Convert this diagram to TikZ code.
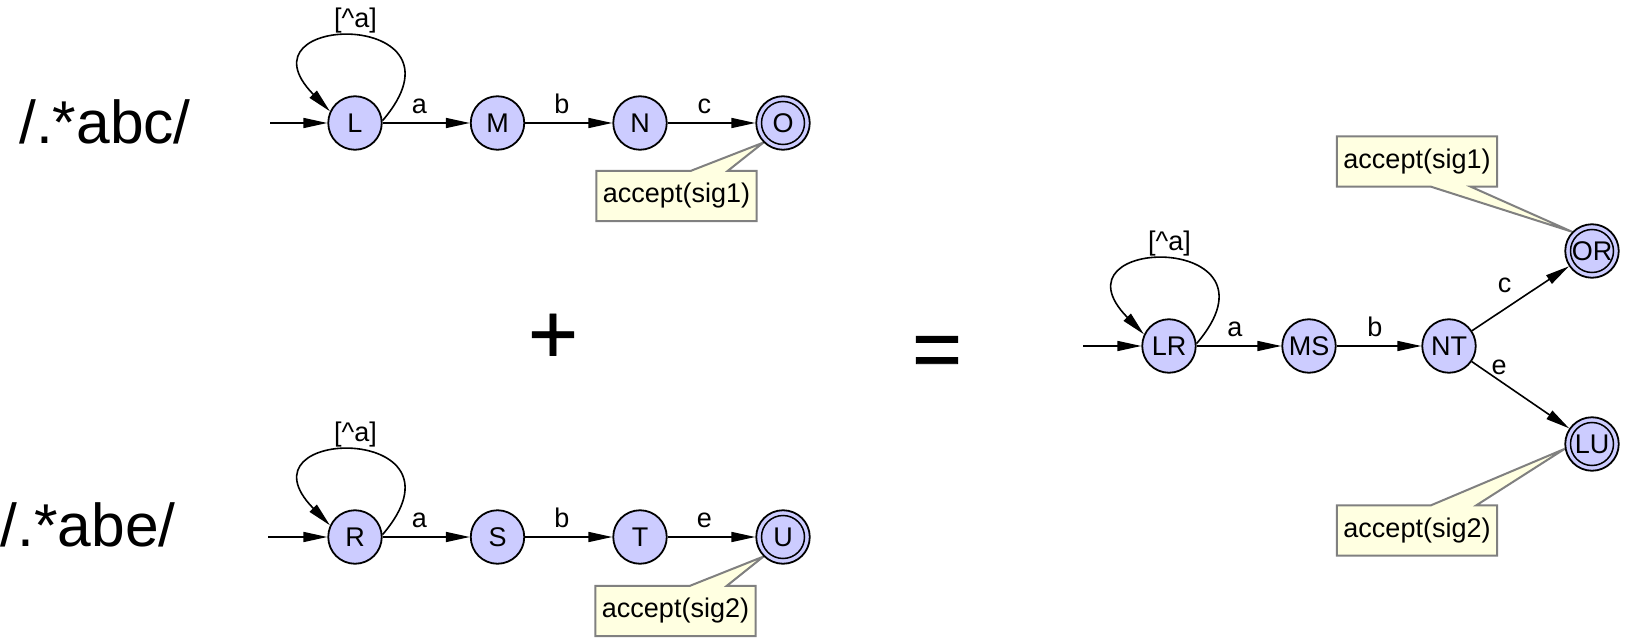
\documentclass[tikz,border=0pt]{standalone}
\usepackage{fontspec}
\setmainfont{Liberation Sans}
\newfontfamily\opfont[UprightFeatures={FakeBold=1}]{Liberation Sans}
\usetikzlibrary{arrows.meta,calc}
\pgfdeclarelayer{background}
\pgfsetlayers{background,main}
\definecolor{statefill}{RGB}{204,204,255}
\definecolor{notefill}{RGB}{255,255,225}
\definecolor{noteline}{RGB}{128,128,128}
\begin{document}
\begin{tikzpicture}[x=1pt,y=-1pt,
  state/.style={circle,draw=black,line width=1.8pt,fill=statefill,
    minimum size=53.5pt,inner sep=0pt,font=\fontsize{27}{27}\selectfont},
  accepting/.style={state,path picture={\draw[line width=1.5pt]
    (path picture bounding box.center) circle (21.5pt);}},
  trans/.style={line width=1.6pt,-{Triangle[length=24pt,width=10pt]}},
  selfloop/.style={trans,
    to path={.. controls +(96,-112) and +(-98,-100) .. (\tikztotarget) \tikztonodes}},
  elabel/.style={font=\fontsize{27}{27}\selectfont,inner sep=0pt},
  note/.style={font=\fontsize{27}{27}\selectfont,inner sep=0pt,
    minimum width=160pt,minimum height=50pt},
  notebox/.style={fill=notefill,draw=noteline,line width=2pt,line join=miter},
  regex/.style={font=\fontsize{60.5}{60.5}\selectfont,inner sep=0pt,anchor=base west},
  op/.style={font=\opfont\fontsize{85}{85}\selectfont,inner sep=0pt,anchor=base},
]
\useasboundingbox (0,0) rectangle (1628,639);

% ---- expressions and operators
\node[regex] (re1) at (19,143.3) {/.*abc/};
\node[regex] (re2) at (0.5,546) {/.*abe/};
\node[op] (plus) at (553,363) {+};
\node[op] (eq) at (937,378) {=};

% ---- automaton for /.*abc/
\node[state] (L) at (355,123) {L};
\node[state] (M) at (497.5,123) {M};
\node[state] (N) at (640,123) {N};
\node[accepting] (O) at (783,123) {O};
\coordinate (Lin) at (270,123);
\draw[trans] (Lin) -- (L);
\draw[selfloop] (L.5) to node[elabel,pos=0.5,above=3pt] {[\textasciicircum a]} (L.155);
\draw[trans] (L) -- node[elabel,pos=0.42,above=8pt] {a} (M);
\draw[trans] (M) -- node[elabel,pos=0.42,above=8pt] {b} (N);
\draw[trans] (N) -- node[elabel,pos=0.42,above=8pt] {c} (O);
\node[note] (n1) at (676.5,196) {accept(sig1)};

% ---- automaton for /.*abe/
\node[state] (R) at (355,537) {R};
\node[state] (S) at (497.5,537) {S};
\node[state] (T) at (640,537) {T};
\node[accepting] (U) at (783,537) {U};
\coordinate (Rin) at (268,537);
\draw[trans] (Rin) -- (R);
\draw[selfloop] (R.5) to node[elabel,pos=0.5,above=3pt] {[\textasciicircum a]} (R.155);
\draw[trans] (R) -- node[elabel,pos=0.42,above=8pt] {a} (S);
\draw[trans] (S) -- node[elabel,pos=0.42,above=8pt] {b} (T);
\draw[trans] (T) -- node[elabel,pos=0.42,above=8pt] {e} (U);
\node[note] (n2) at (675.5,611) {accept(sig2)};

% ---- combined automaton
\node[state] (LR) at (1169,346) {LR};
\node[state] (MS) at (1309,346) {MS};
\node[state] (NT) at (1449,346) {NT};
\node[accepting] (OR) at (1592,251) {OR};
\node[accepting] (LU) at (1592,444) {LU};
\coordinate (LRin) at (1083,346);
\draw[trans] (LRin) -- (LR);
\draw[selfloop] (LR.5) to node[elabel,pos=0.5,above=3pt] {[\textasciicircum a]} (LR.155);
\draw[trans] (LR) -- node[elabel,pos=0.45,above=8pt] {a} (MS);
\draw[trans] (MS) -- node[elabel,pos=0.45,above=8pt] {b} (NT);
\draw[trans] (NT) -- node[elabel,pos=0.45,shift={(-11,-16)}] {c} (OR);
\draw[trans] (NT) -- node[elabel,pos=0.22,shift={(6,-9)}] {e} (LU);
\node[note] (n3) at (1417,161.5) {accept(sig1)};
\node[note] (n4) at (1417,530.5) {accept(sig2)};

% ---- note outlines with their pointers
\begin{pgfonlayer}{background}
\path[notebox] (n1.north west)
  -- ($(n1.north west)!0.59!(n1.north east)$) -- (O.225)
  -- ($(n1.north west)!0.82!(n1.north east)$)
  -- (n1.north east) -- (n1.south east) -- (n1.south west) -- cycle;
\path[notebox] (n2.north west)
  -- ($(n2.north west)!0.59!(n2.north east)$) -- (U.225)
  -- ($(n2.north west)!0.82!(n2.north east)$)
  -- (n2.north east) -- (n2.south east) -- (n2.south west) -- cycle;
\path[notebox] (n3.north west) -- (n3.north east) -- (n3.south east)
  -- ($(n3.south west)!0.835!(n3.south east)$) -- (OR.136)
  -- ($(n3.south west)!0.587!(n3.south east)$)
  -- (n3.south west) -- cycle;
\path[notebox] (n4.north west)
  -- ($(n4.north west)!0.587!(n4.north east)$) -- (LU.190)
  -- ($(n4.north west)!0.87!(n4.north east)$)
  -- (n4.north east) -- (n4.south east) -- (n4.south west) -- cycle;
\end{pgfonlayer}
\end{tikzpicture}
\end{document}
